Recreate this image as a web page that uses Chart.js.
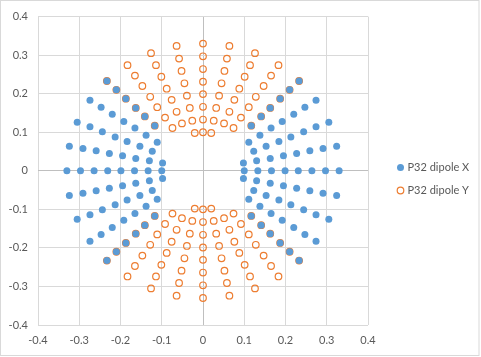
<!DOCTYPE html>
<html>
<head>
<meta charset="utf-8">
<script src="https://cdn.jsdelivr.net/npm/chart.js@4/dist/chart.umd.min.js"></script>
<style>
html,body{margin:0;padding:0;background:#fff;}
canvas{display:block;}
</style>
</head>
<body>
<canvas id="c" width="481" height="357"></canvas>
<script>
// Series names
const seriesNames = ['P32 dipole X', 'P32 dipole Y'];

// Axis ticks
const tickValues = [-0.4, -0.3, -0.2, -0.1, 0, 0.1, 0.2, 0.3, 0.4];
const tickLabels = ['-0.4', '-0.3', '-0.2', '-0.1', '0', '0.1', '0.2', '0.3', '0.4'];

// P32 dipole X : x values
const dipoleXx = [
  .100,.133,.166,.199,.231,.264,.297,.330,
  .098,.130,.163,.195,.227,.259,.291,.324,
  .098,.130,.163,.195,.227,.259,.291,.324,
  .123,.153,.184,.213,.244,.274,.305,
  .123,.153,.184,.213,.244,.274,.305,
  .111,.138,.165,.192,.220,.247,.274,
  .111,.138,.165,.192,.220,.247,.274,
  .117,.141,.163,.187,.210,.233,
  .117,.141,.163,.187,.210,.233,
  -.100,-.133,-.166,-.199,-.231,-.264,-.297,-.330,
  -.098,-.130,-.163,-.195,-.227,-.259,-.291,-.324,
  -.098,-.130,-.163,-.195,-.227,-.259,-.291,-.324,
  -.123,-.153,-.184,-.213,-.244,-.274,-.305,
  -.123,-.153,-.184,-.213,-.244,-.274,-.305,
  -.111,-.138,-.165,-.192,-.220,-.247,-.274,
  -.111,-.138,-.165,-.192,-.220,-.247,-.274,
  -.117,-.141,-.163,-.187,-.210,-.233,
  -.117,-.141,-.163,-.187,-.210,-.233
];
// P32 dipole X : y values
const dipoleXy = [
  0,0,0,0,0,0,0,0,
  .020,.026,.032,.039,.045,.052,.058,.064,
  -.020,-.026,-.032,-.039,-.045,-.052,-.058,-.064,
  .051,.064,.076,.088,.101,.114,.126,
  -.051,-.064,-.076,-.088,-.101,-.114,-.126,
  .074,.092,.111,.128,.147,.165,.183,
  -.074,-.092,-.111,-.128,-.147,-.165,-.183,
  .117,.141,.163,.187,.210,.233,
  -.117,-.141,-.163,-.187,-.210,-.233,
  0,0,0,0,0,0,0,0,
  .020,.026,.032,.039,.045,.052,.058,.064,
  -.020,-.026,-.032,-.039,-.045,-.052,-.058,-.064,
  .051,.064,.076,.088,.101,.114,.126,
  -.051,-.064,-.076,-.088,-.101,-.114,-.126,
  .074,.092,.111,.128,.147,.165,.183,
  -.074,-.092,-.111,-.128,-.147,-.165,-.183,
  .117,.141,.163,.187,.210,.233,
  -.117,-.141,-.163,-.187,-.210,-.233
];

// P32 dipole Y : x values
const dipoleYx = [
  0,0,0,0,0,0,0,0,
  .020,.026,.032,.039,.045,.052,.058,.064,
  -.020,-.026,-.032,-.039,-.045,-.052,-.058,-.064,
  .051,.064,.076,.088,.101,.114,.126,
  -.051,-.064,-.076,-.088,-.101,-.114,-.126,
  .074,.092,.111,.128,.147,.165,.183,
  -.074,-.092,-.111,-.128,-.147,-.165,-.183,
  .117,.141,.163,.187,.210,.233,
  -.117,-.141,-.163,-.187,-.210,-.233,
  0,0,0,0,0,0,0,0,
  .020,.026,.032,.039,.045,.052,.058,.064,
  -.020,-.026,-.032,-.039,-.045,-.052,-.058,-.064,
  .051,.064,.076,.088,.101,.114,.126,
  -.051,-.064,-.076,-.088,-.101,-.114,-.126,
  .074,.092,.111,.128,.147,.165,.183,
  -.074,-.092,-.111,-.128,-.147,-.165,-.183,
  .117,.141,.163,.187,.210,.233,
  -.117,-.141,-.163,-.187,-.210,-.233
];
// P32 dipole Y : y values
const dipoleYy = [
  .100,.133,.166,.199,.231,.264,.297,.330,
  .098,.130,.163,.195,.227,.259,.291,.324,
  .098,.130,.163,.195,.227,.259,.291,.324,
  .123,.153,.184,.213,.244,.274,.305,
  .123,.153,.184,.213,.244,.274,.305,
  .111,.138,.165,.192,.220,.247,.274,
  .111,.138,.165,.192,.220,.247,.274,
  .117,.141,.163,.187,.210,.233,
  .117,.141,.163,.187,.210,.233,
  -.100,-.133,-.166,-.199,-.231,-.264,-.297,-.330,
  -.098,-.130,-.163,-.195,-.227,-.259,-.291,-.324,
  -.098,-.130,-.163,-.195,-.227,-.259,-.291,-.324,
  -.123,-.153,-.184,-.213,-.244,-.274,-.305,
  -.123,-.153,-.184,-.213,-.244,-.274,-.305,
  -.111,-.138,-.165,-.192,-.220,-.247,-.274,
  -.111,-.138,-.165,-.192,-.220,-.247,-.274,
  -.117,-.141,-.163,-.187,-.210,-.233,
  -.117,-.141,-.163,-.187,-.210,-.233
];

const BLUE = '#5B9BD5';
const ORANGE = '#ED7D31';
const TEXT = '#595959';
const FONT = 'Lato, "Liberation Sans", Arial, sans-serif';

Chart.defaults.font.family = FONT;
Chart.defaults.font.size = 11;
Chart.defaults.color = TEXT;

const toPoints = (xs, ys) => xs.map((x, i) => ({x: x, y: ys[i]}));

const frame = {
  id: 'frame',
  beforeDraw(chart) {
    const ctx = chart.ctx;
    ctx.save();
    ctx.fillStyle = '#ffffff';
    ctx.fillRect(0, 0, chart.width, chart.height);
    ctx.strokeStyle = '#d9d9d9';
    ctx.lineWidth = 1;
    ctx.strokeRect(0.5, 0.5, 478.5, 355);
    ctx.restore();
  }
};

const legendPlugin = {
  id: 'customLegend',
  afterDraw(chart) {
    const ctx = chart.ctx;
    ctx.save();
    const ys = [167.5, 190.5];
    chart.data.datasets.forEach((ds, i) => {
      const y = ys[i];
      ctx.fillStyle = ds.backgroundColor;
      ctx.strokeStyle = ds.borderColor;
      ctx.lineWidth = ds.borderWidth;
      Chart.helpers.drawPoint(ctx, {pointStyle: 'circle', radius: ds.pointRadius, borderWidth: ds.borderWidth}, 400.5, y);
      ctx.fillStyle = TEXT;
      ctx.font = '11px ' + FONT;
      ctx.textAlign = 'left';
      ctx.textBaseline = 'middle';
      ctx.fillText(ds.label, 407.5, y);
    });
    ctx.restore();
  }
};

const axisCommon = (isX) => ({
  type: 'linear',
  min: -0.4,
  max: 0.4,
  afterBuildTicks(scale) { scale.ticks = tickValues.map(v => ({value: v})); },
  afterFit(scale) { if (isX) { scale.height = 30; } else { scale.width = 38; } },
  border: {display: false},
  grid: {
    drawTicks: false,
    lineWidth: 1,
    color: (c) => (c.tick && c.tick.value === 0) ? '#bfbfbf' : '#d9d9d9'
  },
  ticks: {
    padding: isX ? 9 : 10,
    color: TEXT,
    font: {size: 11, family: FONT},
    maxRotation: 0,
    autoSkip: false,
    callback: (v, i) => tickLabels[i]
  }
});

new Chart(document.getElementById('c'), {
  type: 'scatter',
  data: {
    datasets: [
      {
        label: seriesNames[0],
        data: toPoints(dipoleXx, dipoleXy),
        backgroundColor: BLUE,
        borderColor: BLUE,
        borderWidth: 0,
        pointRadius: 3.5,
        pointHoverRadius: 3.5
      },
      {
        label: seriesNames[1],
        data: toPoints(dipoleYx, dipoleYy),
        backgroundColor: 'rgba(255,255,255,0)',
        borderColor: ORANGE,
        borderWidth: 1.2,
        pointRadius: 3.3,
        pointHoverRadius: 3.3
      }
    ]
  },
  options: {
    responsive: false,
    animation: false,
    devicePixelRatio: 1,
    layout: {padding: {top: 14, left: 0, right: 113, bottom: 2}},
    plugins: {
      legend: {display: false},
      tooltip: {enabled: false}
    },
    scales: {
      x: axisCommon(true),
      y: axisCommon(false)
    }
  },
  plugins: [frame, legendPlugin]
});
</script>
</body>
</html>
